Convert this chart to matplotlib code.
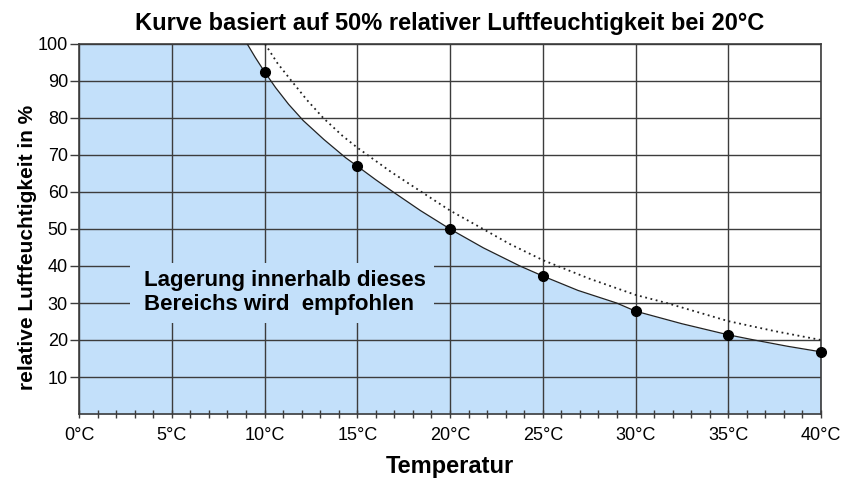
import numpy as np
import matplotlib
matplotlib.use("Agg")
from matplotlib import pyplot as plt
from matplotlib.patches import Rectangle

plt.rcParams['font.family'] = ['Liberation Sans', 'DejaVu Sans']

# measured points (dots)
point_temp = [10, 15, 20, 25, 30, 35, 40]
point_rh = [92.4, 67.0, 50.0, 37.3, 27.8, 21.4, 16.8]

# solid curve
curve_temp = [9.07, 9.5, 10, 10.6, 11.3, 12.09, 13.2, 14.39, 15, 16.0, 16.94, 18.4, 20, 21.8,
              23.77, 25, 26.9, 28.98, 30, 32.5, 35, 36.4, 38.2, 40]
curve_rh = [100, 96.4, 92.5, 88.2, 83.7, 79.3, 74.2, 69.2, 67.0, 63.3, 60, 55.0, 50, 44.9,
            40, 37.3, 33.4, 30, 27.8, 24.4, 21.4, 20, 18.3, 16.8]

# dotted reference curve
dot_temp = [10.03, 10.7, 11.46, 12.3, 13.17, 14.2, 15.0, 16.8, 18.47, 20, 21.5, 23.2,
            25, 27.5, 30, 31.68, 35, 37.5, 40]
dot_rh = [100, 94.8, 90, 84.8, 80, 75.2, 72.0, 65.5, 60, 55.0, 50.8, 46.0,
          41.6, 36.6, 32.2, 30, 25.1, 22.4, 20.0]

xticks = [0, 5, 10, 15, 20, 25, 30, 35, 40]
xticklabels = ['%d°C' % t for t in xticks]
yticks = [10, 20, 30, 40, 50, 60, 70, 80, 90, 100]

fill_color = '#c3e0fa'
grid_color = '#3c3c3c'

fig = plt.figure(figsize=(8.43, 4.79), dpi=100)
ax = fig.add_axes([79 / 843, 1 - 414 / 479, 742 / 843, 370 / 479])

ax.set_xlim(0, 40)
ax.set_ylim(0, 100)

# blue area below the curve
fill_x = [0] + curve_temp
fill_y = [100] + curve_rh
ax.fill_between(fill_x, 0, fill_y, color=fill_color, lw=0, zorder=0.2)

ax.set_axisbelow(True)
ax.grid(True, color=grid_color, lw=1.0)

# box behind the note hides the grid there
ax.add_patch(Rectangle((2.75, 24.6), 16.4, 16.1, facecolor=fill_color,
                       edgecolor='none', zorder=1))
ax.text(3.5, 32.8, 'Lagerung innerhalb dieses\nBereichs wird  empfohlen',
        fontsize=16, fontweight='bold', ha='left', va='center',
        linespacing=1.15, zorder=4)

ax.plot(curve_temp, curve_rh, color='#222222', lw=0.9, zorder=3)
ax.plot(dot_temp, dot_rh, color='#222222', lw=1.3, ls=(0, (1, 2)), zorder=3)
ax.plot(point_temp, point_rh, 'o', color='black', ms=7, zorder=5, clip_on=False)

ax.set_xticks(xticks)
ax.set_xticklabels(xticklabels)
ax.set_xticks(np.arange(0, 41, 1), minor=True)
ax.set_yticks(yticks)
ax.tick_params(axis='x', which='both', direction='inout', length=6, width=1,
               color=grid_color, labelsize=13, pad=6)
ax.tick_params(axis='y', direction='out', length=6.5, width=1,
               color=grid_color, labelsize=13, pad=1.5)

for s in ax.spines.values():
    s.set_color(grid_color)
    s.set_linewidth(1.2)

ax.set_title('Kurve basiert auf 50% relativer Luftfeuchtigkeit bei 20°C',
             fontsize=17, fontweight='bold', pad=10)
ax.set_xlabel('Temperatur', fontsize=17, fontweight='bold')
ax.xaxis.set_label_coords(0.5, -0.11)
ax.set_ylabel('relative Luftfeuchtigkeit in %', fontsize=15, fontweight='bold')
ax.yaxis.set_label_coords(-0.057, 0.45)

fig.savefig('out.png', dpi=100)
